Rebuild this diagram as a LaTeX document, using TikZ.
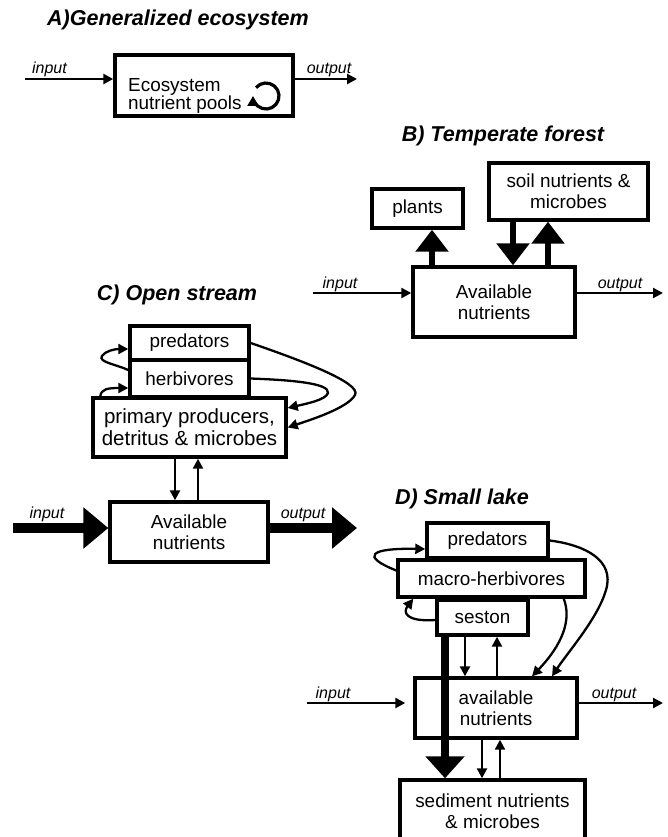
\documentclass[tikz,border=0pt]{standalone}
\usepackage{fontspec}
\setmainfont{Liberation Sans}
\usetikzlibrary{arrows.meta,calc}
\begin{document}
\begin{tikzpicture}[x=1pt,y=-1pt,
  box/.style={draw, line width=3.4pt, inner sep=0pt, align=center, font=\fontsize{18.9}{21}\selectfont},
  txt/.style={inner sep=0pt, align=center, font=\fontsize{18.9}{21}\selectfont},
  ttl/.style={font=\fontsize{21.5}{24}\selectfont\bfseries\itshape, anchor=base, inner sep=0pt},
  lbl/.style={font=\fontsize{16}{18}\selectfont\itshape, anchor=base, inner sep=0pt},
  thinarr/.style={line width=2.3pt, -{Triangle[length=10pt,width=10pt]}},
  thicksix/.style={line width=6pt, -{Triangle[length=22pt,width=32pt]}},
  thickten/.style={line width=10pt, -{Triangle[length=25pt,width=40pt]}},
  thickeight/.style={line width=8pt, -{Triangle[length=22pt,width=38pt]}},
]
\useasboundingbox (0,0) rectangle (668,837);

% ---------- A ----------
\node[ttl] (ta) at (178,26) {A)Generalized ecosystem};
\node[box, minimum width=178pt, minimum height=61pt] (apool) at (204,85.5) {};
\node[font=\fontsize{18.9}{18}\selectfont, align=left, anchor=west, inner sep=0pt] (atext) at (128,96) {Ecosystem\\nutrient pools};
\draw[line width=3.2pt, -{Triangle[length=10pt,width=11pt]}] ($(apool.center)+(62,10.5)$) ++(-140:13) arc[start angle=-140, end angle=180, radius=13];
\coordinate (aIn) at (25,79);
\draw[thinarr, line width=2.6pt] (aIn) -- (aIn -| apool.west);
\node[lbl] (aInL) at (49.5,74) {input};
\coordinate (aOut) at (357,79);
\draw[thinarr, line width=2.6pt] (aOut -| apool.east) -- (aOut);
\node[lbl] (aOutL) at (329,74) {output};

% ---------- B ----------
\node[ttl] (tb) at (503,142) {B) Temperate forest};
\node[box, minimum width=91pt, minimum height=39pt] (plants) at (417.5,208.5) {plants};
\node[box, minimum width=159pt, minimum height=57pt] (soil) at (568.5,191.5) {soil nutrients \&\\microbes};
\node[box, minimum width=162pt, minimum height=70pt] (availB) at (494,302) {Available\\nutrients};
\coordinate (b1) at ($(availB.north)+(-62,0)$);
\draw[thicksix] (b1) -- (b1 |- plants.south);
\coordinate (b2) at ($(soil.south)+(-55.5,0)$);
\draw[thicksix] (b2) -- (b2 |- availB.north);
\coordinate (b3) at ($(soil.south)+(-20.5,0)$);
\draw[thicksix] (b3 |- availB.north) -- (b3);
\coordinate (bIn) at (313,293);
\draw[thinarr] (bIn) -- (bIn -| availB.west);
\node[lbl] (bInL) at (340,288) {input};
\coordinate (bOut) at (663,293);
\draw[thinarr] (bOut -| availB.east) -- (bOut);
\node[lbl] (bOutL) at (620,288) {output};

% ---------- C ----------
\node[ttl] (tc) at (177,300) {C) Open stream};
\node[box, minimum width=119pt, minimum height=34pt] (predC) at (189.5,343) {predators};
\node[box, minimum width=119pt, minimum height=37pt] (herbC) at (189.5,378.5) {herbivores};
\node[box, minimum width=193pt, minimum height=59pt, font=\fontsize{20.5}{22}\selectfont] (primC) at (189.5,427.5) {primary producers,\\detritus \& microbes};
\node[box, minimum width=158pt, minimum height=60pt] (availC) at (189,532) {Available\\nutrients};
\coordinate (c1) at ($(primC.south)+(-14.5,0)$);
\draw[thinarr] (c1) -- (c1 |- availC.north);
\coordinate (c2) at ($(primC.south)+(8.5,0)$);
\draw[thinarr] (c2 |- availC.north) -- (c2);
\draw[thinarr] (predC.east) .. controls (300,360) and (362,383) .. (355,395) .. controls (348,408) and (310,420) .. (primC.east);
\draw[thinarr] (herbC.east) .. controls (290,380) and (330,383) .. (328,393) .. controls (326,400) and (305,404) .. ($(primC.east)+(0,-19.5)$);
\draw[thinarr] ($(herbC.west)+(0,-8.5)$) .. controls (115,364) and (98,362) .. (102,356) .. controls (105,351) and (115,349) .. ($(predC.west)+(0,6)$);
\draw[thinarr] ($(primC.north west)+(9,0)$) .. controls (101,389) and (108,388) .. ($(herbC.west)+(0,9.5)$);
\coordinate (cIn) at (13,528);
\draw[thickten] (cIn) -- (cIn -| availC.west);
\node[lbl] (cInL) at (47,518) {input};
\coordinate (cOut) at (357,528);
\draw[thickten] (cOut -| availC.east) -- (cOut);
\node[lbl] (cOutL) at (303,518) {output};

% ---------- D ----------
\node[ttl] (td) at (462,504) {D) Small lake};
\node[box, minimum width=121pt, minimum height=35pt] (predD) at (487.5,540.5) {predators};
\node[box, minimum width=187pt, minimum height=37pt] (mhD) at (491.5,578.5) {macro-herbivores};
\node[box, minimum width=91pt, minimum height=35pt] (sesD) at (482.5,617.5) {seston};
\node[box, minimum width=162pt, minimum height=60pt] (availD) at (496,708) {available\\nutrients};
\node[box, minimum width=185pt, minimum height=76pt] (sedD) at (492.5,818) {};
\node[txt] (sedT) at (492.5,811) {sediment nutrients\\\& microbes};
\coordinate (d0) at ($(sesD.south)+(-37.5,0)$);
\draw[thickeight] (d0) -- (d0 |- sedD.north);
\coordinate (d1) at ($(sesD.south)+(-17.5,0)$);
\draw[thinarr] (d1) -- (d1 |- availD.north);
\coordinate (d2) at ($(sesD.south)+(14.5,0)$);
\draw[thinarr] (d2 |- availD.north) -- (d2);
\coordinate (d3) at ($(availD.south)+(-14,0)$);
\draw[thinarr] (d3) -- (d3 |- sedD.north);
\coordinate (d4) at ($(availD.south)+(4,0)$);
\draw[thinarr] (d4 |- sedD.north) -- (d4);
\draw[thinarr] (predD.east) .. controls (585,545) and (615,560) .. (606,590) .. controls (598,618) and (568,652) .. ($(availD.north)+(56,0)$);
\draw[thinarr] ($(mhD.south east)+(-23,0)$) .. controls (572,620) and (562,645) .. ($(availD.north)+(36,0)$);
\draw[thinarr] ($(mhD.west)+(0,-8)$) .. controls (360,556) and (370,548) .. ($(predD.west)+(0,8.5)$);
\draw[thinarr] ($(sesD.west)+(0,2.5)$) .. controls (405,622) and (403,612) .. ($(mhD.south west)+(17,0)$);
\coordinate (dIn) at (307,703);
\draw[thinarr] (dIn) -- ($(dIn -| availD.west)+(-8,0)$);
\node[lbl] (dInL) at (333,698) {input};
\coordinate (dOut) at (663,703);
\draw[thinarr] (dOut -| availD.east) -- (dOut);
\node[lbl] (dOutL) at (614,698) {output};
\end{tikzpicture}
\end{document}
